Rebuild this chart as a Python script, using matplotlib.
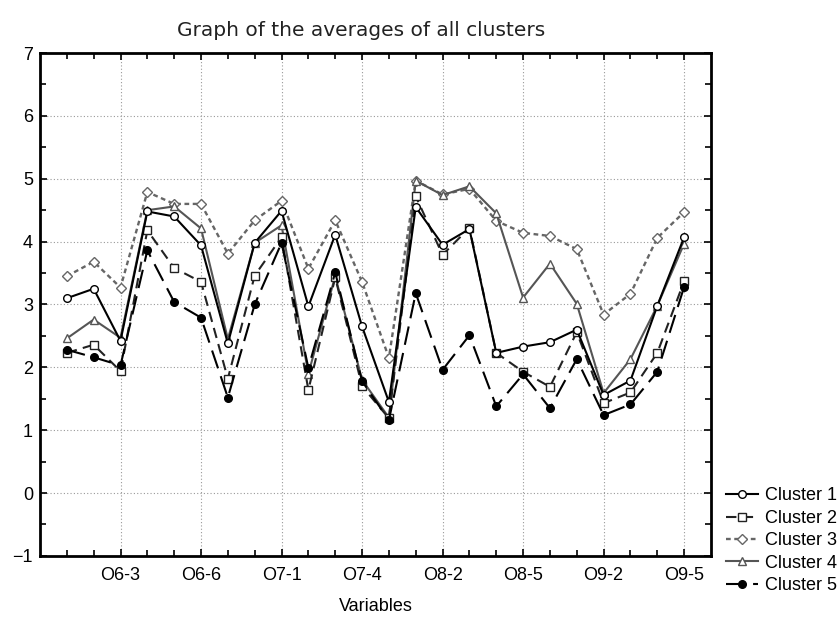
import numpy as np
import matplotlib
matplotlib.use('Agg')
import matplotlib.pyplot as plt
from matplotlib.ticker import MultipleLocator, FixedLocator

plt.rcParams['font.family'] = ['Liberation Sans', 'DejaVu Sans']

# Variables del eje x (solo se rotula una de cada tres)
variables = ['O6-1', 'O6-2', 'O6-3', 'O6-4', 'O6-5', 'O6-6', 'O6-7', 'O6-8',
             'O7-1', 'O7-2', 'O7-3', 'O7-4', 'O7-5',
             'O8-1', 'O8-2', 'O8-3', 'O8-4', 'O8-5', 'O8-6',
             'O9-1', 'O9-2', 'O9-3', 'O9-4', 'O9-5']

cluster1 = [3.10, 3.25, 2.42, 4.48, 4.40, 3.94, 2.38, 3.98, 4.49, 2.97, 4.11, 2.65,
            1.45, 4.55, 3.95, 4.20, 2.23, 2.33, 2.40, 2.60, 1.56, 1.79, 2.98, 4.07]
cluster2 = [2.23, 2.36, 1.94, 4.18, 3.58, 3.36, 1.82, 3.46, 4.07, 1.64, 3.43, 1.70,
            1.19, 4.72, 3.79, 4.22, 2.23, 1.93, 1.69, 2.56, 1.43, 1.60, 2.23, 3.37]
cluster3 = [3.45, 3.68, 3.27, 4.79, 4.60, 4.60, 3.81, 4.34, 4.65, 3.57, 4.34, 3.36,
            2.15, 4.97, 4.75, 4.84, 4.33, 4.14, 4.09, 3.88, 2.84, 3.17, 4.06, 4.47]
cluster4 = [2.46, 2.76, 2.47, 4.50, 4.56, 4.21, 2.45, 3.98, 4.26, 1.90, 3.45, 1.80,
            1.20, 4.97, 4.74, 4.88, 4.45, 3.11, 3.65, 3.01, 1.59, 2.13, 2.98, 3.97]
cluster5 = [2.28, 2.16, 2.03, 3.86, 3.04, 2.79, 1.52, 3.00, 3.98, 1.99, 3.51, 1.78,
            1.16, 3.18, 1.96, 2.51, 1.38, 1.89, 1.35, 2.13, 1.24, 1.41, 1.93, 3.28]

x = np.arange(1, len(variables) + 1)

fig = plt.figure(figsize=(8.4, 6.17), dpi=100)
ax = fig.add_axes([0.0476, 0.099, 0.7988, 0.815])

ms = 5.5
ax.plot(x, cluster1, color='black', lw=1.5, ls='-', marker='o',
        mfc='white', mec='black', ms=ms, label='Cluster 1', zorder=5)
ax.plot(x, cluster2, color='#222222', lw=1.5, ls=(0, (5, 3)), marker='s',
        mfc='white', mec='#222222', ms=ms, label='Cluster 2', zorder=4)
ax.plot(x, cluster3, color='#666666', lw=1.7, ls=(0, (2, 1.5)), marker='D',
        mfc='white', mec='#666666', ms=ms - 0.5, label='Cluster 3', zorder=3)
ax.plot(x, cluster4, color='#555555', lw=1.5, ls='-', marker='^',
        mfc='white', mec='#555555', ms=ms, label='Cluster 4', zorder=3)
ax.plot(x, cluster5, color='black', lw=1.5, ls=(0, (9, 4)), marker='o',
        mfc='black', mec='black', ms=ms, label='Cluster 5', zorder=4)

ax.set_xlim(0, 25)
ax.set_ylim(-1, 7)

# ticks: etiquetas cada tres variables, marcas en todas
ax.xaxis.set_major_locator(FixedLocator(x[2::3]))
ax.set_xticklabels(variables[2::3])
ax.xaxis.set_minor_locator(FixedLocator(x))
ax.yaxis.set_major_locator(MultipleLocator(1))
ax.yaxis.set_minor_locator(MultipleLocator(0.5))
ax.tick_params(which='both', direction='in', top=True, right=True,
               labelsize=13, width=1.2)
ax.tick_params(which='major', length=5)
ax.tick_params(which='minor', length=4)
ax.tick_params(axis='x', pad=8)
ax.tick_params(axis='y', pad=5)

ax.grid(True, which='major', ls=(0, (1, 2)), color='#999999', lw=0.8)
for s in ax.spines.values():
    s.set_linewidth(2)
    s.set_color('black')

ax.set_xlabel('Variables', fontsize=13, labelpad=10)
fig.text(0.430, 0.951, 'Graph of the averages of all clusters',
         ha='center', va='center', fontsize=14.5, family='DejaVu Sans',
         color='#222222')

ax.legend(loc='center left', bbox_to_anchor=(1.022, 0.03), frameon=False,
          fontsize=13, handlelength=1.8, handletextpad=0.4, labelspacing=0.3,
          borderaxespad=0, borderpad=0)

fig.savefig('out.png', dpi=100, facecolor='white')
